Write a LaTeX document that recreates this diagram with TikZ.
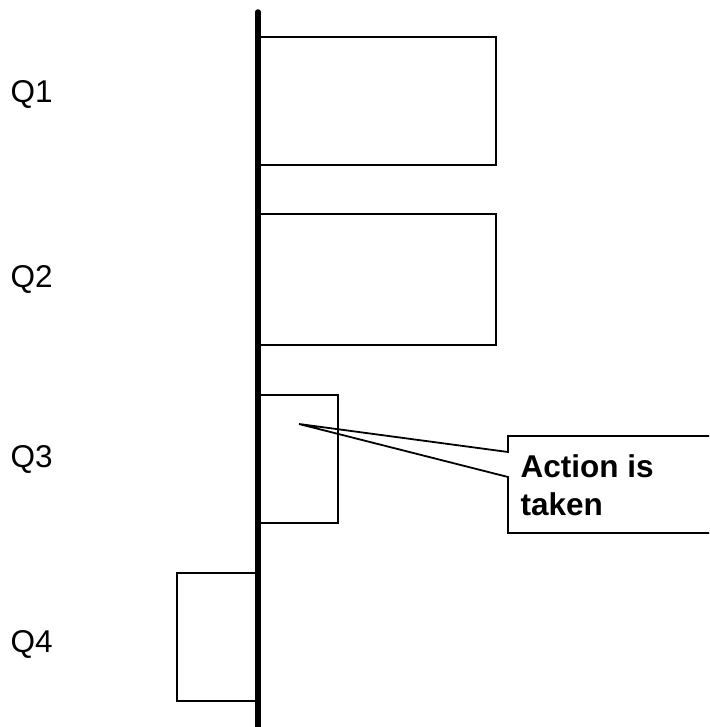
\documentclass[tikz,border=0pt]{standalone}
\usepackage{fontspec}
\setmainfont{Liberation Sans}
\begin{document}
\begin{tikzpicture}[x=1pt,y=1pt,
  qbox/.style={draw=black, line width=1.8pt, line join=miter},
  qlabel/.style={anchor=base west, inner sep=0pt, font=\fontsize{31.5}{37}\selectfont},
  calltext/.style={anchor=north west, inner sep=0pt, align=left,
    font=\fontsize{31.5}{38}\selectfont\bfseries},
  axis/.style={line width=5.5pt, line cap=round}]
  \useasboundingbox (0,0) rectangle (709,-727);
  \clip (0,0) rectangle (709,-727);

  % time axis
  \coordinate (top) at (258,-12);
  \coordinate (bottom) at (258,-740);
  \draw[axis] (top) -- (bottom);

  % quarter bars
  \draw[qbox] (258,-37) rectangle (496,-165);
  \draw[qbox] (258,-214) rectangle (496,-345);
  \draw[qbox] (258,-395) rectangle (338,-523);
  \draw[qbox] (258,-573) rectangle (177,-701);
  \coordinate (q3mark) at (299,-424);

  % quarter labels
  \node[qlabel] (q1) at (10.5,-103) {Q1};
  \node[qlabel] (q2) at (10.5,-287) {Q2};
  \node[qlabel] (q3) at (10.5,-467) {Q3};
  \node[qlabel] (q4) at (10.5,-652) {Q4};

  % callout
  \coordinate (cwa) at (508,-452);
  \coordinate (cwb) at (508,-477);
  \draw[qbox] (cwa) -- (508,-436) -- (730,-436) -- (730,-533) -- (508,-533)
    -- (cwb) -- (q3mark) -- cycle;
  \node[calltext] (action) at (520.5,-454.5) {Action is\\taken};
\end{tikzpicture}
\end{document}
